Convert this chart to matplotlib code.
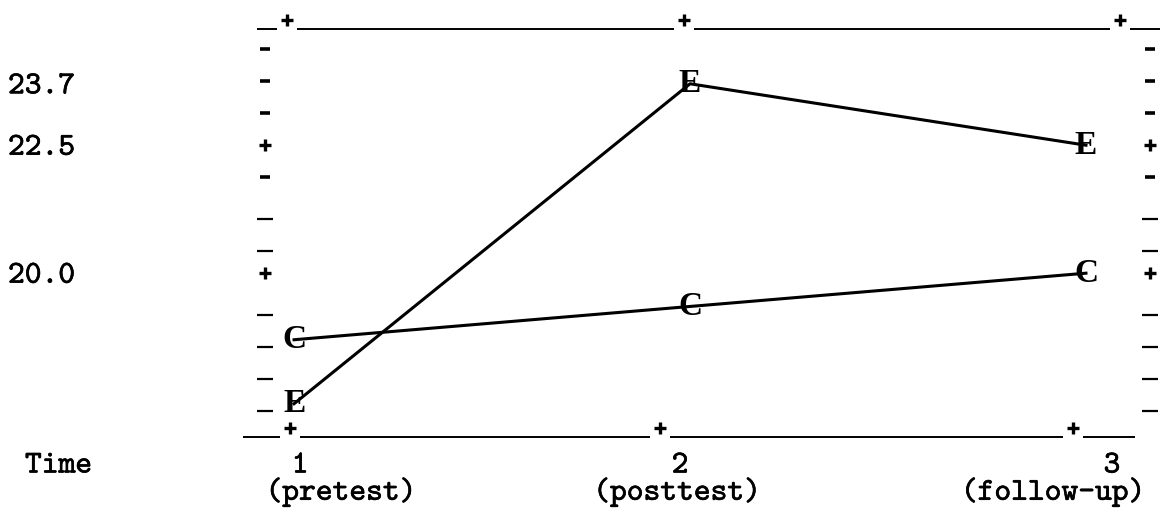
import matplotlib
matplotlib.use('Agg')
import matplotlib.pyplot as plt
import matplotlib.patheffects as pe
from matplotlib.transforms import blended_transform_factory

# group means over the three measurement occasions
time = [1, 2, 3]
exp_means = [17.45, 23.7, 22.5]   # E: experimental group
ctl_means = [18.7, 19.35, 20.0]   # C: control group

ytick_vals = [23.7, 22.5, 20.0]
ytick_labels = ['23.7', '22.5', '20.0']
time_labels = ['1', '2', '3']
phase_labels = ['(pretest)', '(posttest)', '(follow-up)']

# printer-style frame: '+' rows, hyphen rows and underscore rows
plus_rows = [22.5, 20.0]
hyphen_rows = [24.375, 23.75, 23.125, 21.875]
under_rows = [21.25, 20.625, 19.375, 18.75, 18.125, 17.5]
top_plus = [0.982, 1.985, 3.086]
bottom_plus = [0.99, 1.924, 2.967]

W, H = 1170, 513
fig = plt.figure(figsize=(W / 100, H / 100), dpi=100)
ax = fig.add_axes([243 / W, 1 - 437 / H, 917 / W, 408 / H])
ax.set_xlim(0.871, 3.187)
ax.set_ylim(16.80, 24.77)
ax.axis('off')

ink = 'black'
thick = [pe.withStroke(linewidth=0.45, foreground=ink)]
mono = dict(family='cmtt10', fontsize=23, color=ink, path_effects=thick)

px = 1 / 396  # one pixel in x data units
py = 1 / 51.2  # one pixel in y data units

# top and bottom rules, broken where the '+' marks sit
def rule(y_ax, pluses, x0, x1):
    edges = [x0]
    for p in pluses:
        edges += [p - 10 * px, p + 10 * px]
    edges.append(x1)
    tr = blended_transform_factory(ax.transData, ax.transAxes)
    for a, b in zip(edges[::2], edges[1::2]):
        ax.plot([a, b], [y_ax, y_ax], color=ink, lw=1.4, transform=tr,
                clip_on=False, solid_capstyle='butt')
    ax.plot(pluses, [y_ax + 9 / 408] * len(pluses), ls='none', marker='+',
            ms=9, mew=2.4, color=ink, transform=tr, clip_on=False)

rule(1.0, top_plus, 0.906, 3.187)
rule(0.0, bottom_plus, 0.871, 3.123)

# left and right tick columns
for xc in [22 / 917, 907 / 917]:
    tr = blended_transform_factory(ax.transAxes, ax.transData)
    ax.plot([xc] * len(plus_rows), plus_rows, ls='none', marker='+', ms=9,
            mew=2.4, color=ink, transform=tr, clip_on=False)
    ax.plot([xc] * len(hyphen_rows), hyphen_rows, ls='none', marker='_',
            ms=7, mew=2.6, color=ink, transform=tr, clip_on=False)
    ax.plot([xc] * len(under_rows), [r - 10 * py for r in under_rows],
            ls='none', marker='_', ms=12, mew=1.6, color=ink, transform=tr,
            clip_on=False)

# the two group profiles
ax.plot(time, exp_means, color=ink, lw=2.2, zorder=3)
ax.plot(time, ctl_means, color=ink, lw=2.2, zorder=3)
for t, e, c in zip(time, exp_means, ctl_means):
    ax.text(t, e, 'E', family='Liberation Serif', weight='bold', fontsize=24,
            ha='center', va='center', color=ink, zorder=4)
    ax.text(t, c, 'C', family='Liberation Serif', weight='bold', fontsize=24,
            ha='center', va='center', color=ink, zorder=4)

# y labels at the far left
ylab_tr = blended_transform_factory(fig.transFigure, ax.transData)
for v, s in zip(ytick_vals, ytick_labels):
    ax.text(8 / W, v, s, transform=ylab_tr, ha='left', va='center_baseline',
            **mono)

# time axis labels
fig.text(25 / W, 1 - 463 / H, 'Time', ha='left', va='center_baseline', **mono)
xlab_tr = blended_transform_factory(ax.transData, fig.transFigure)
num_dx = [6, -10, 26]
phase_dx = [47, -13, -33]
for t, s, dx in zip(time, time_labels, num_dx):
    ax.text(t + dx * px, 1 - 463 / H, s, transform=xlab_tr, ha='center',
            va='center_baseline', **mono)
for t, s, dx in zip(time, phase_labels, phase_dx):
    ax.text(t + dx * px, 1 - 489 / H, s, transform=xlab_tr, ha='center',
            va='center_baseline', **mono)

fig.savefig('out.png', dpi=100, facecolor='white')
